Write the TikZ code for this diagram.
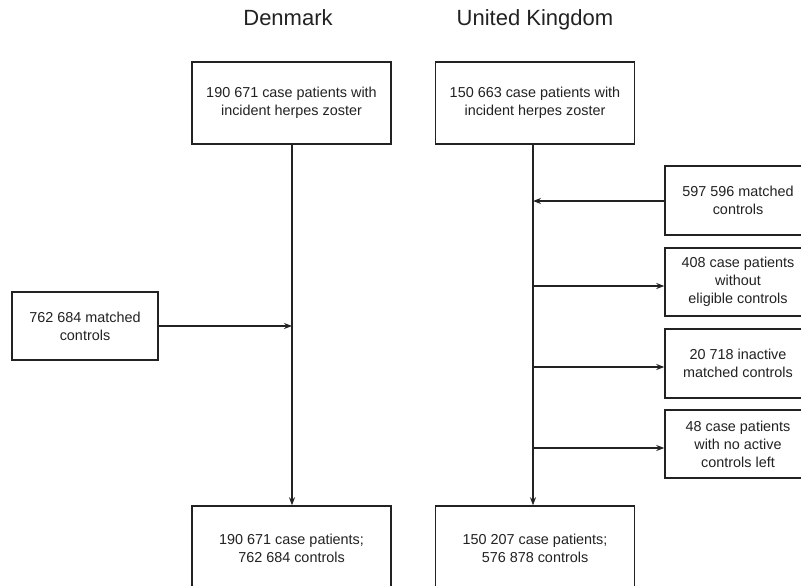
\documentclass[tikz,border=0pt]{standalone}
\usepackage{fontspec}
\setmainfont{Liberation Sans}
\usetikzlibrary{arrows.meta,calc}
\definecolor{ink}{HTML}{222222}
\begin{document}
\begin{tikzpicture}[x=1pt,y=-1pt,
  box/.style={draw=ink,line width=1.5pt,align=center,inner sep=0pt,
    font=\fontsize{14.4}{18}\selectfont,text=ink},
  bigbox/.style={box,minimum width=199pt,minimum height=82pt},
  sidebox/.style={box,minimum width=146pt,minimum height=68pt},
  head/.style={font=\fontsize{22}{26}\selectfont,text=ink,anchor=base},
  flow/.style={draw=ink,line width=1.5pt},
  arr/.style={flow,-{Stealth[length=8pt,width=6pt]}}]
\useasboundingbox (0,0) rectangle (801,586);
\clip (0,0) rectangle (801,586);
\fill[white] (0,0) rectangle (801,586);
% headings
\node[head] (hdk) at (288,26) {Denmark};
\node[head] (huk) at (535,26) {United Kingdom};
% top boxes
\node[bigbox] (dktop) at (291.5,103) {190 671 case patients with\\incident herpes zoster};
\node[bigbox] (uktop) at (535,103) {150 663 case patients with\\incident herpes zoster};
% bottom boxes
\node[bigbox,minimum height=84pt] (dkbot) at (291.5,548) {190 671 case patients;\\762 684 controls};
\node[bigbox,minimum height=84pt] (ukbot) at (535,548) {150 207 case patients;\\576 878 controls};
% side boxes
\node[sidebox] (dkc) at (85,326) {762 684 matched\\controls};
\node[sidebox,minimum height=69pt] (uk1) at (738,200.5) {597 596 matched\\controls};
\node[sidebox] (uk2) at (738,282) {408 case patients\\without\\eligible controls};
\node[sidebox,minimum height=69pt] (uk3) at (738,363.5) {20 718 inactive\\matched controls};
\node[sidebox] (uk4) at (738,444) {48 case patients\\with no active\\controls left};
% vertical lines
\coordinate (dkl) at (292,0);
\coordinate (ukl) at (533,0);
\draw[arr] (dkl |- dktop.south) -- (dkl |- dkbot.north);
\draw[arr] (ukl |- uktop.south) -- (ukl |- ukbot.north);
% side arrows
\draw[arr] (dkc.east) -- (dkc.east -| dkl);
\draw[arr] ([yshift=-0.5pt]uk1.west) -- ([yshift=-0.5pt]uk1.west -| ukl);
\draw[arr] ([yshift=-4pt]uk2.west -| ukl) -- ([yshift=-4pt]uk2.west);
\draw[arr] ([yshift=-3.5pt]uk3.west -| ukl) -- ([yshift=-3.5pt]uk3.west);
\draw[arr] ([yshift=-4pt]uk4.west -| ukl) -- ([yshift=-4pt]uk4.west);
\end{tikzpicture}
\end{document}
